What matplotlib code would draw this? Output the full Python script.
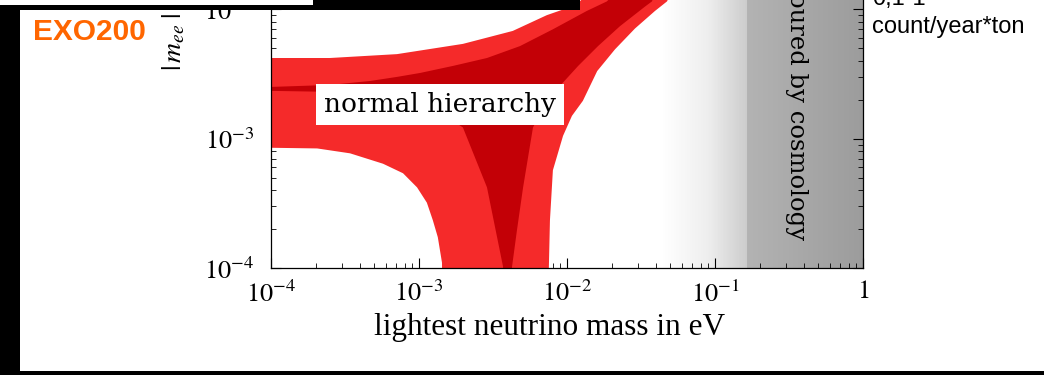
import numpy as np
import matplotlib
matplotlib.use("Agg")
import matplotlib.pyplot as plt
from matplotlib.patches import Rectangle

plt.rcParams["font.family"] = ["Liberation Serif", "DejaVu Serif"]
plt.rcParams["mathtext.fontset"] = "stix"

# --- band edges: lightest neutrino mass (eV) vs |m_ee| (eV) ---
# outer band, upper edge (left -> right)
outer_top_m = [1e-4, 2.5e-4, 7.1e-4, 1.98e-3, 4.3e-3, 7.3e-3, 1.05e-2, 1.22e-2, 2.0e-2]
outer_top_mee = [4.2e-3, 4.2e-3, 4.5e-3, 5.4e-3, 6.8e-3, 9.0e-3, 1.04e-2, 1.15e-2, 2.0e-2]
# outer band, right edge (top -> bottom)
outer_right_m = [6.0e-2, 4.74e-2, 3.93e-2, 2.88e-2, 2.11e-2, 1.6e-2, 1.28e-2, 1.08e-2,
                 9.4e-3, 8.03e-3, 7.67e-3, 7.2e-3]
outer_right_mee = [2.0e-2, 1.15e-2, 9.7e-3, 7.1e-3, 4.9e-3, 3.33e-3, 1.96e-3, 1.5e-3,
                   1.05e-3, 5.7e-4, 2.34e-4, 1e-5]
# outer band, lower edge (right -> left)
outer_low_m = [1.45e-3, 1.43e-3, 1.34e-3, 1.24e-3, 1.13e-3, 9.7e-4, 7.8e-4, 5.71e-4,
               3.42e-4, 2.05e-4, 1e-4]
outer_low_mee = [1e-5, 1.1e-4, 1.73e-4, 2.34e-4, 3.2e-4, 4.2e-4, 5.4e-4, 6.4e-4,
                 7.7e-4, 8.4e-4, 8.5e-4]

# inner (best fit) band, upper edge (left -> right)
inner_top_m = [1e-4, 2.5e-4, 4.67e-4, 7.1e-4, 1.02e-3, 1.7e-3, 2.88e-3, 4.81e-3,
               8.03e-3, 1.36e-2, 1.86e-2, 3.0e-2]
inner_top_mee = [2.51e-3, 2.6e-3, 2.79e-3, 3.0e-3, 3.22e-3, 3.65e-3, 4.2e-3, 5.19e-3,
                 7.0e-3, 9.7e-3, 1.15e-2, 2.0e-2]
# inner band, right branch of the lower edge (top -> bottom)
inner_right_m = [4.5e-2, 3.75e-2, 3.37e-2, 2.28e-2, 1.62e-2, 1.19e-2, 8.97e-3, 7.1e-3,
                 5.89e-3, 5.05e-3, 4.59e-3, 4.25e-3, 3.85e-3]
inner_right_mee = [2.0e-2, 1.15e-2, 1.05e-2, 7.4e-3, 5.19e-3, 3.65e-3, 2.56e-3, 1.8e-3,
                   1.22e-3, 4.2e-4, 1.96e-4, 1.02e-4, 1e-5]
# inner band, left branch of the lower edge (bottom -> top)
inner_left_m = [3.7e-3, 2.88e-3, 1.98e-3, 1.19e-3, 2.5e-4, 1e-4]
inner_left_mee = [1.02e-4, 4.2e-4, 1.22e-3, 1.8e-3, 2.3e-3, 2.34e-3]

# cosmology bound shading (gray level along the mass axis)
cosmo_m = [0.0425, 0.09, 0.164, 0.164, 1.0]
cosmo_shade = [1.0, 0.93, 0.80, 0.70, 0.61]

xticks = [1e-4, 1e-3, 1e-2, 1e-1, 1.0]
xticklabels = ["$10^{-4}$", "$10^{-3}$", "$10^{-2}$", "$10^{-1}$", "$1$"]
yticks = [1e-4, 1e-3, 1e-2, 1e-1]
yticklabels = ["$10^{-4}$", "$10^{-3}$", "$10^{-2}$", "$10^{-1}$"]

fig = plt.figure(figsize=(10.44, 3.75), dpi=100)
fig.patch.set_facecolor("white")
# the plot runs off the top of the slide
ax = fig.add_axes([0.2596, 0.2853, 0.5670, 1.035])
ax.set_xscale("log")
ax.set_yscale("log")
ax.set_xlim(1e-4, 1.0)
ax.set_ylim(1e-4, 1e-1)

# gray "excluded by cosmology" strip
edges = np.logspace(np.log10(cosmo_m[0]), 0, 241)
mids = np.sqrt(edges[:-1] * edges[1:])
shades = np.interp(np.log10(mids), np.log10(cosmo_m), cosmo_shade)
ax.pcolormesh(edges, [1e-5, 1.0], shades[None, :], cmap="gray", vmin=0, vmax=1,
              shading="flat", zorder=0.5)

# 3 sigma band
ox = outer_top_m + outer_right_m + outer_low_m
oy = outer_top_mee + outer_right_mee + outer_low_mee
ax.fill(ox, oy, color="#f52a2a", lw=0, zorder=2)

# best-fit band
ix = inner_top_m + inner_right_m + inner_left_m
iy = inner_top_mee + inner_right_mee + inner_left_mee
ax.fill(ix, iy, color="#c30006", lw=0, zorder=2.1)

ax.text(1.39e-3, 1.84e-3, "normal hierarchy", family="DejaVu Serif", fontsize=19,
        ha="center", va="center", zorder=3,
        bbox=dict(boxstyle="square,pad=0.3", fc="white", ec="none"))
ax.text(0.358, 1.64e-4, "disfavoured by cosmology", family="DejaVu Serif", fontsize=17.5,
        rotation=-90, ha="center", va="bottom", zorder=3)

ax.set_xticks(xticks)
ax.set_xticklabels(xticklabels)
ax.set_yticks(yticks)
ax.set_yticklabels(yticklabels)
ax.tick_params(which="both", direction="in", top=True, right=True, labelsize=19)
ax.tick_params(which="major", length=7, width=0.8)
ax.tick_params(which="minor", length=3.5, width=0.6)
ax.tick_params(axis="x", pad=9)
ax.tick_params(axis="y", pad=12)
for s in ax.spines.values():
    s.set_linewidth(0.9)

fig.text(174 / 1044, 1 - 71 / 375, "$|\\,m_{ee}\\;|$", rotation=90,
         ha="center", va="bottom", fontsize=20)
fig.text(550 / 1044, 1 - 327 / 375, "lightest neutrino mass in eV",
         ha="center", va="center", fontsize=22.5)

# slide annotations
fig.text(33 / 1044, 1 - 40 / 375, "EXO200", ha="left", va="baseline", fontsize=21.5,
         weight="bold", color="#ff6600", family="Liberation Sans")
fig.text(872 / 1044, 1 - 5 / 375, "0,1-1", ha="left", va="baseline", fontsize=17,
         family="Liberation Sans")
fig.text(872 / 1044, 1 - 33 / 375, "count/year*ton", ha="left", va="baseline",
         fontsize=17, family="Liberation Sans")

# slide frame pieces: (x, y, w, h, colour) in pixels from the bottom-left
frame = [
    (0, 370, 313, 5, "white"),   # strip of the slide above
    (0, 0, 20, 365, "black"),    # left bar
    (0, 365, 580, 5, "black"),   # top bar
    (313, 370, 267, 5, "black"), # top bar, upper part
    (0, 0, 1044, 4, "black"),    # bottom bar
]
for x0, y0, w, h, c in frame:
    fig.add_artist(Rectangle((x0 / 1044, y0 / 375), w / 1044, h / 375,
                             transform=fig.transFigure, color=c, lw=0, zorder=10))

fig.savefig("out.png", dpi=100)
